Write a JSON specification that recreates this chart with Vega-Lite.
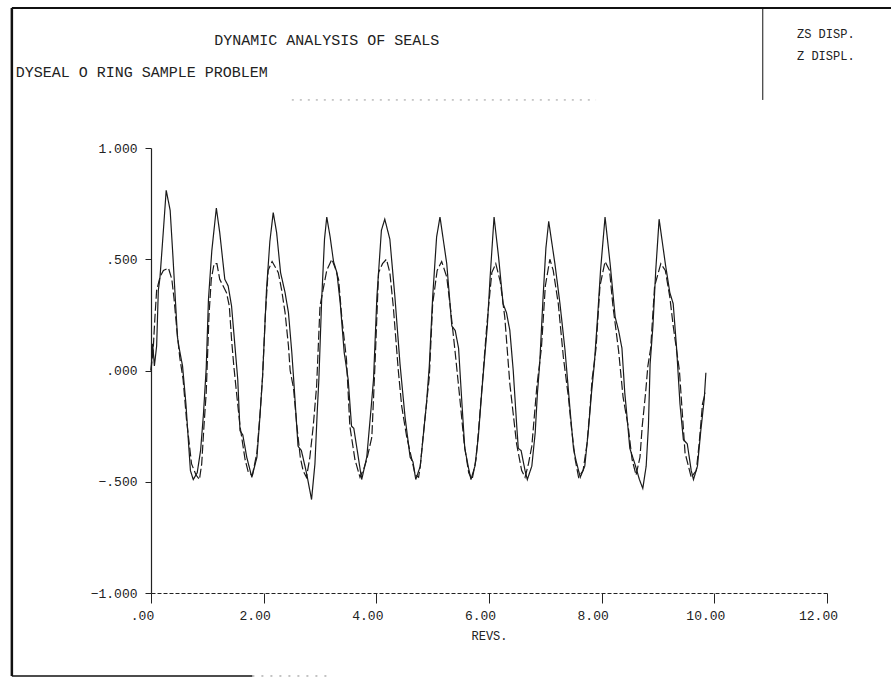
{
  "$schema": "https://vega.github.io/schema/vega-lite/v6.json",
  "width": 676,
  "height": 445,
  "autosize": {"type": "none"},
  "padding": {"left": 151, "top": 148, "right": 64, "bottom": 84},
  "background": "white",
  "config": {
    "view": {"stroke": null},
    "font": "Liberation Mono",
    "axis": {"grid": false, "labelFont": "Liberation Mono", "titleFont": "Liberation Mono", "labelColor": "#222", "titleColor": "#222", "domainColor": "#222", "tickColor": "#222"}
  },
  "datasets": {
    "curves": [
      {"rev": 0.00, "disp": 0.00, "series": "ZS DISP."},
      {"rev": 0.03, "disp": 0.12, "series": "ZS DISP."},
      {"rev": 0.06, "disp": 0.02, "series": "ZS DISP."},
      {"rev": 0.10, "disp": 0.11, "series": "ZS DISP."},
      {"rev": 0.13, "disp": 0.36, "series": "ZS DISP."},
      {"rev": 0.16, "disp": 0.42, "series": "ZS DISP."},
      {"rev": 0.22, "disp": 0.63, "series": "ZS DISP."},
      {"rev": 0.27, "disp": 0.81, "series": "ZS DISP."},
      {"rev": 0.34, "disp": 0.72, "series": "ZS DISP."},
      {"rev": 0.39, "disp": 0.51, "series": "ZS DISP."},
      {"rev": 0.43, "disp": 0.33, "series": "ZS DISP."},
      {"rev": 0.47, "disp": 0.15, "series": "ZS DISP."},
      {"rev": 0.50, "disp": 0.10, "series": "ZS DISP."},
      {"rev": 0.56, "disp": 0.02, "series": "ZS DISP."},
      {"rev": 0.62, "disp": -0.15, "series": "ZS DISP."},
      {"rev": 0.67, "disp": -0.34, "series": "ZS DISP."},
      {"rev": 0.70, "disp": -0.45, "series": "ZS DISP."},
      {"rev": 0.75, "disp": -0.49, "series": "ZS DISP."},
      {"rev": 0.82, "disp": -0.46, "series": "ZS DISP."},
      {"rev": 0.88, "disp": -0.36, "series": "ZS DISP."},
      {"rev": 0.93, "disp": -0.20, "series": "ZS DISP."},
      {"rev": 0.98, "disp": 0.01, "series": "ZS DISP."},
      {"rev": 1.02, "disp": 0.32, "series": "ZS DISP."},
      {"rev": 1.08, "disp": 0.54, "series": "ZS DISP."},
      {"rev": 1.16, "disp": 0.73, "series": "ZS DISP."},
      {"rev": 1.22, "disp": 0.62, "series": "ZS DISP."},
      {"rev": 1.31, "disp": 0.41, "series": "ZS DISP."},
      {"rev": 1.37, "disp": 0.38, "series": "ZS DISP."},
      {"rev": 1.43, "disp": 0.29, "series": "ZS DISP."},
      {"rev": 1.49, "disp": 0.11, "series": "ZS DISP."},
      {"rev": 1.54, "disp": -0.04, "series": "ZS DISP."},
      {"rev": 1.58, "disp": -0.27, "series": "ZS DISP."},
      {"rev": 1.63, "disp": -0.29, "series": "ZS DISP."},
      {"rev": 1.70, "disp": -0.39, "series": "ZS DISP."},
      {"rev": 1.79, "disp": -0.48, "series": "ZS DISP."},
      {"rev": 1.88, "disp": -0.39, "series": "ZS DISP."},
      {"rev": 1.93, "disp": -0.22, "series": "ZS DISP."},
      {"rev": 1.98, "disp": -0.03, "series": "ZS DISP."},
      {"rev": 2.05, "disp": 0.36, "series": "ZS DISP."},
      {"rev": 2.11, "disp": 0.58, "series": "ZS DISP."},
      {"rev": 2.17, "disp": 0.71, "series": "ZS DISP."},
      {"rev": 2.23, "disp": 0.62, "series": "ZS DISP."},
      {"rev": 2.30, "disp": 0.44, "series": "ZS DISP."},
      {"rev": 2.38, "disp": 0.35, "series": "ZS DISP."},
      {"rev": 2.44, "disp": 0.26, "series": "ZS DISP."},
      {"rev": 2.50, "disp": 0.08, "series": "ZS DISP."},
      {"rev": 2.53, "disp": -0.03, "series": "ZS DISP."},
      {"rev": 2.61, "disp": -0.34, "series": "ZS DISP."},
      {"rev": 2.67, "disp": -0.36, "series": "ZS DISP."},
      {"rev": 2.76, "disp": -0.46, "series": "ZS DISP."},
      {"rev": 2.85, "disp": -0.58, "series": "ZS DISP."},
      {"rev": 2.91, "disp": -0.42, "series": "ZS DISP."},
      {"rev": 2.95, "disp": -0.19, "series": "ZS DISP."},
      {"rev": 2.98, "disp": -0.04, "series": "ZS DISP."},
      {"rev": 3.03, "disp": 0.32, "series": "ZS DISP."},
      {"rev": 3.08, "disp": 0.59, "series": "ZS DISP."},
      {"rev": 3.12, "disp": 0.69, "series": "ZS DISP."},
      {"rev": 3.18, "disp": 0.60, "series": "ZS DISP."},
      {"rev": 3.24, "disp": 0.49, "series": "ZS DISP."},
      {"rev": 3.30, "disp": 0.44, "series": "ZS DISP."},
      {"rev": 3.36, "disp": 0.30, "series": "ZS DISP."},
      {"rev": 3.43, "disp": 0.08, "series": "ZS DISP."},
      {"rev": 3.50, "disp": -0.04, "series": "ZS DISP."},
      {"rev": 3.56, "disp": -0.25, "series": "ZS DISP."},
      {"rev": 3.60, "disp": -0.26, "series": "ZS DISP."},
      {"rev": 3.68, "disp": -0.39, "series": "ZS DISP."},
      {"rev": 3.74, "disp": -0.49, "series": "ZS DISP."},
      {"rev": 3.83, "disp": -0.39, "series": "ZS DISP."},
      {"rev": 3.90, "disp": -0.19, "series": "ZS DISP."},
      {"rev": 3.95, "disp": -0.04, "series": "ZS DISP."},
      {"rev": 4.01, "disp": 0.33, "series": "ZS DISP."},
      {"rev": 4.09, "disp": 0.63, "series": "ZS DISP."},
      {"rev": 4.15, "disp": 0.68, "series": "ZS DISP."},
      {"rev": 4.24, "disp": 0.59, "series": "ZS DISP."},
      {"rev": 4.33, "disp": 0.33, "series": "ZS DISP."},
      {"rev": 4.42, "disp": 0.03, "series": "ZS DISP."},
      {"rev": 4.51, "disp": -0.21, "series": "ZS DISP."},
      {"rev": 4.60, "disp": -0.39, "series": "ZS DISP."},
      {"rev": 4.65, "disp": -0.41, "series": "ZS DISP."},
      {"rev": 4.70, "disp": -0.49, "series": "ZS DISP."},
      {"rev": 4.78, "disp": -0.43, "series": "ZS DISP."},
      {"rev": 4.83, "disp": -0.30, "series": "ZS DISP."},
      {"rev": 4.89, "disp": -0.15, "series": "ZS DISP."},
      {"rev": 4.94, "disp": 0.02, "series": "ZS DISP."},
      {"rev": 5.00, "disp": 0.33, "series": "ZS DISP."},
      {"rev": 5.07, "disp": 0.60, "series": "ZS DISP."},
      {"rev": 5.13, "disp": 0.69, "series": "ZS DISP."},
      {"rev": 5.25, "disp": 0.48, "series": "ZS DISP."},
      {"rev": 5.34, "disp": 0.20, "series": "ZS DISP."},
      {"rev": 5.40, "disp": 0.18, "series": "ZS DISP."},
      {"rev": 5.46, "disp": 0.10, "series": "ZS DISP."},
      {"rev": 5.52, "disp": -0.15, "series": "ZS DISP."},
      {"rev": 5.57, "disp": -0.35, "series": "ZS DISP."},
      {"rev": 5.63, "disp": -0.43, "series": "ZS DISP."},
      {"rev": 5.68, "disp": -0.49, "series": "ZS DISP."},
      {"rev": 5.75, "disp": -0.43, "series": "ZS DISP."},
      {"rev": 5.81, "disp": -0.30, "series": "ZS DISP."},
      {"rev": 5.87, "disp": -0.10, "series": "ZS DISP."},
      {"rev": 5.91, "disp": 0.02, "series": "ZS DISP."},
      {"rev": 5.97, "disp": 0.20, "series": "ZS DISP."},
      {"rev": 6.02, "disp": 0.42, "series": "ZS DISP."},
      {"rev": 6.09, "disp": 0.69, "series": "ZS DISP."},
      {"rev": 6.17, "disp": 0.51, "series": "ZS DISP."},
      {"rev": 6.25, "disp": 0.30, "series": "ZS DISP."},
      {"rev": 6.31, "disp": 0.26, "series": "ZS DISP."},
      {"rev": 6.37, "disp": 0.18, "series": "ZS DISP."},
      {"rev": 6.43, "disp": 0.00, "series": "ZS DISP."},
      {"rev": 6.49, "disp": -0.24, "series": "ZS DISP."},
      {"rev": 6.52, "disp": -0.35, "series": "ZS DISP."},
      {"rev": 6.57, "disp": -0.36, "series": "ZS DISP."},
      {"rev": 6.64, "disp": -0.45, "series": "ZS DISP."},
      {"rev": 6.68, "disp": -0.49, "series": "ZS DISP."},
      {"rev": 6.76, "disp": -0.43, "series": "ZS DISP."},
      {"rev": 6.82, "disp": -0.28, "series": "ZS DISP."},
      {"rev": 6.86, "disp": -0.10, "series": "ZS DISP."},
      {"rev": 6.90, "disp": 0.03, "series": "ZS DISP."},
      {"rev": 6.96, "disp": 0.33, "series": "ZS DISP."},
      {"rev": 7.01, "disp": 0.55, "series": "ZS DISP."},
      {"rev": 7.06, "disp": 0.67, "series": "ZS DISP."},
      {"rev": 7.17, "disp": 0.48, "series": "ZS DISP."},
      {"rev": 7.26, "disp": 0.30, "series": "ZS DISP."},
      {"rev": 7.35, "disp": 0.09, "series": "ZS DISP."},
      {"rev": 7.44, "disp": -0.18, "series": "ZS DISP."},
      {"rev": 7.50, "disp": -0.35, "series": "ZS DISP."},
      {"rev": 7.54, "disp": -0.40, "series": "ZS DISP."},
      {"rev": 7.62, "disp": -0.48, "series": "ZS DISP."},
      {"rev": 7.70, "disp": -0.43, "series": "ZS DISP."},
      {"rev": 7.76, "disp": -0.28, "series": "ZS DISP."},
      {"rev": 7.82, "disp": -0.10, "series": "ZS DISP."},
      {"rev": 7.87, "disp": 0.03, "series": "ZS DISP."},
      {"rev": 7.93, "disp": 0.25, "series": "ZS DISP."},
      {"rev": 7.98, "disp": 0.45, "series": "ZS DISP."},
      {"rev": 8.06, "disp": 0.69, "series": "ZS DISP."},
      {"rev": 8.15, "disp": 0.48, "series": "ZS DISP."},
      {"rev": 8.24, "disp": 0.24, "series": "ZS DISP."},
      {"rev": 8.30, "disp": 0.18, "series": "ZS DISP."},
      {"rev": 8.36, "disp": 0.10, "series": "ZS DISP."},
      {"rev": 8.41, "disp": -0.10, "series": "ZS DISP."},
      {"rev": 8.44, "disp": -0.18, "series": "ZS DISP."},
      {"rev": 8.50, "disp": -0.35, "series": "ZS DISP."},
      {"rev": 8.59, "disp": -0.42, "series": "ZS DISP."},
      {"rev": 8.67, "disp": -0.49, "series": "ZS DISP."},
      {"rev": 8.73, "disp": -0.53, "series": "ZS DISP."},
      {"rev": 8.79, "disp": -0.43, "series": "ZS DISP."},
      {"rev": 8.83, "disp": -0.25, "series": "ZS DISP."},
      {"rev": 8.86, "disp": 0.03, "series": "ZS DISP."},
      {"rev": 8.91, "disp": 0.20, "series": "ZS DISP."},
      {"rev": 8.96, "disp": 0.45, "series": "ZS DISP."},
      {"rev": 9.02, "disp": 0.68, "series": "ZS DISP."},
      {"rev": 9.13, "disp": 0.48, "series": "ZS DISP."},
      {"rev": 9.21, "disp": 0.35, "series": "ZS DISP."},
      {"rev": 9.27, "disp": 0.30, "series": "ZS DISP."},
      {"rev": 9.33, "disp": 0.10, "series": "ZS DISP."},
      {"rev": 9.39, "disp": -0.15, "series": "ZS DISP."},
      {"rev": 9.45, "disp": -0.31, "series": "ZS DISP."},
      {"rev": 9.52, "disp": -0.33, "series": "ZS DISP."},
      {"rev": 9.59, "disp": -0.45, "series": "ZS DISP."},
      {"rev": 9.63, "disp": -0.49, "series": "ZS DISP."},
      {"rev": 9.70, "disp": -0.43, "series": "ZS DISP."},
      {"rev": 9.76, "disp": -0.27, "series": "ZS DISP."},
      {"rev": 9.82, "disp": -0.13, "series": "ZS DISP."},
      {"rev": 9.85, "disp": -0.01, "series": "ZS DISP."},
      {"rev": 0.00, "disp": 0.00, "series": "Z DISPL."},
      {"rev": 0.04, "disp": 0.10, "series": "Z DISPL."},
      {"rev": 0.07, "disp": 0.24, "series": "Z DISPL."},
      {"rev": 0.10, "disp": 0.36, "series": "Z DISPL."},
      {"rev": 0.16, "disp": 0.42, "series": "Z DISPL."},
      {"rev": 0.22, "disp": 0.45, "series": "Z DISPL."},
      {"rev": 0.31, "disp": 0.46, "series": "Z DISPL."},
      {"rev": 0.37, "disp": 0.41, "series": "Z DISPL."},
      {"rev": 0.41, "disp": 0.32, "series": "Z DISPL."},
      {"rev": 0.46, "disp": 0.18, "series": "Z DISPL."},
      {"rev": 0.51, "disp": 0.06, "series": "Z DISPL."},
      {"rev": 0.57, "disp": -0.04, "series": "Z DISPL."},
      {"rev": 0.63, "disp": -0.22, "series": "Z DISPL."},
      {"rev": 0.72, "disp": -0.42, "series": "Z DISPL."},
      {"rev": 0.80, "disp": -0.47, "series": "Z DISPL."},
      {"rev": 0.86, "disp": -0.49, "series": "Z DISPL."},
      {"rev": 0.90, "disp": -0.42, "series": "Z DISPL."},
      {"rev": 0.94, "disp": -0.25, "series": "Z DISPL."},
      {"rev": 0.98, "disp": -0.10, "series": "Z DISPL."},
      {"rev": 1.03, "disp": 0.25, "series": "Z DISPL."},
      {"rev": 1.07, "disp": 0.41, "series": "Z DISPL."},
      {"rev": 1.12, "disp": 0.48, "series": "Z DISPL."},
      {"rev": 1.17, "disp": 0.48, "series": "Z DISPL."},
      {"rev": 1.22, "disp": 0.41, "series": "Z DISPL."},
      {"rev": 1.34, "disp": 0.35, "series": "Z DISPL."},
      {"rev": 1.39, "disp": 0.29, "series": "Z DISPL."},
      {"rev": 1.43, "disp": 0.14, "series": "Z DISPL."},
      {"rev": 1.47, "disp": 0.02, "series": "Z DISPL."},
      {"rev": 1.51, "disp": -0.08, "series": "Z DISPL."},
      {"rev": 1.58, "disp": -0.25, "series": "Z DISPL."},
      {"rev": 1.67, "disp": -0.40, "series": "Z DISPL."},
      {"rev": 1.73, "disp": -0.46, "series": "Z DISPL."},
      {"rev": 1.80, "disp": -0.47, "series": "Z DISPL."},
      {"rev": 1.88, "disp": -0.37, "series": "Z DISPL."},
      {"rev": 1.94, "disp": -0.18, "series": "Z DISPL."},
      {"rev": 1.98, "disp": -0.03, "series": "Z DISPL."},
      {"rev": 2.03, "disp": 0.25, "series": "Z DISPL."},
      {"rev": 2.08, "disp": 0.45, "series": "Z DISPL."},
      {"rev": 2.15, "disp": 0.49, "series": "Z DISPL."},
      {"rev": 2.26, "disp": 0.44, "series": "Z DISPL."},
      {"rev": 2.32, "disp": 0.36, "series": "Z DISPL."},
      {"rev": 2.38, "disp": 0.26, "series": "Z DISPL."},
      {"rev": 2.44, "disp": 0.11, "series": "Z DISPL."},
      {"rev": 2.47, "disp": 0.00, "series": "Z DISPL."},
      {"rev": 2.53, "disp": -0.08, "series": "Z DISPL."},
      {"rev": 2.59, "disp": -0.25, "series": "Z DISPL."},
      {"rev": 2.65, "disp": -0.39, "series": "Z DISPL."},
      {"rev": 2.70, "disp": -0.45, "series": "Z DISPL."},
      {"rev": 2.76, "disp": -0.48, "series": "Z DISPL."},
      {"rev": 2.82, "disp": -0.39, "series": "Z DISPL."},
      {"rev": 2.88, "disp": -0.25, "series": "Z DISPL."},
      {"rev": 2.94, "disp": -0.07, "series": "Z DISPL."},
      {"rev": 3.00, "disp": 0.29, "series": "Z DISPL."},
      {"rev": 3.12, "disp": 0.45, "series": "Z DISPL."},
      {"rev": 3.21, "disp": 0.50, "series": "Z DISPL."},
      {"rev": 3.27, "disp": 0.46, "series": "Z DISPL."},
      {"rev": 3.33, "disp": 0.41, "series": "Z DISPL."},
      {"rev": 3.39, "disp": 0.23, "series": "Z DISPL."},
      {"rev": 3.47, "disp": 0.05, "series": "Z DISPL."},
      {"rev": 3.53, "disp": -0.25, "series": "Z DISPL."},
      {"rev": 3.62, "disp": -0.40, "series": "Z DISPL."},
      {"rev": 3.71, "disp": -0.48, "series": "Z DISPL."},
      {"rev": 3.78, "disp": -0.44, "series": "Z DISPL."},
      {"rev": 3.83, "disp": -0.40, "series": "Z DISPL."},
      {"rev": 3.92, "disp": -0.30, "series": "Z DISPL."},
      {"rev": 3.98, "disp": 0.05, "series": "Z DISPL."},
      {"rev": 4.04, "disp": 0.44, "series": "Z DISPL."},
      {"rev": 4.11, "disp": 0.48, "series": "Z DISPL."},
      {"rev": 4.18, "disp": 0.50, "series": "Z DISPL."},
      {"rev": 4.24, "disp": 0.44, "series": "Z DISPL."},
      {"rev": 4.30, "disp": 0.29, "series": "Z DISPL."},
      {"rev": 4.39, "disp": 0.00, "series": "Z DISPL."},
      {"rev": 4.45, "disp": -0.16, "series": "Z DISPL."},
      {"rev": 4.54, "disp": -0.30, "series": "Z DISPL."},
      {"rev": 4.63, "disp": -0.40, "series": "Z DISPL."},
      {"rev": 4.69, "disp": -0.47, "series": "Z DISPL."},
      {"rev": 4.75, "disp": -0.48, "series": "Z DISPL."},
      {"rev": 4.78, "disp": -0.43, "series": "Z DISPL."},
      {"rev": 4.83, "disp": -0.30, "series": "Z DISPL."},
      {"rev": 4.89, "disp": -0.15, "series": "Z DISPL."},
      {"rev": 4.94, "disp": -0.03, "series": "Z DISPL."},
      {"rev": 5.00, "disp": 0.30, "series": "Z DISPL."},
      {"rev": 5.08, "disp": 0.45, "series": "Z DISPL."},
      {"rev": 5.16, "disp": 0.49, "series": "Z DISPL."},
      {"rev": 5.25, "disp": 0.42, "series": "Z DISPL."},
      {"rev": 5.32, "disp": 0.27, "series": "Z DISPL."},
      {"rev": 5.40, "disp": 0.08, "series": "Z DISPL."},
      {"rev": 5.48, "disp": -0.12, "series": "Z DISPL."},
      {"rev": 5.56, "disp": -0.33, "series": "Z DISPL."},
      {"rev": 5.64, "disp": -0.46, "series": "Z DISPL."},
      {"rev": 5.70, "disp": -0.49, "series": "Z DISPL."},
      {"rev": 5.77, "disp": -0.40, "series": "Z DISPL."},
      {"rev": 5.83, "disp": -0.22, "series": "Z DISPL."},
      {"rev": 5.89, "disp": -0.03, "series": "Z DISPL."},
      {"rev": 5.96, "disp": 0.20, "series": "Z DISPL."},
      {"rev": 6.05, "disp": 0.44, "series": "Z DISPL."},
      {"rev": 6.12, "disp": 0.48, "series": "Z DISPL."},
      {"rev": 6.20, "disp": 0.40, "series": "Z DISPL."},
      {"rev": 6.28, "disp": 0.24, "series": "Z DISPL."},
      {"rev": 6.37, "disp": -0.06, "series": "Z DISPL."},
      {"rev": 6.49, "disp": -0.33, "series": "Z DISPL."},
      {"rev": 6.58, "disp": -0.45, "series": "Z DISPL."},
      {"rev": 6.64, "disp": -0.48, "series": "Z DISPL."},
      {"rev": 6.70, "disp": -0.42, "series": "Z DISPL."},
      {"rev": 6.76, "disp": -0.34, "series": "Z DISPL."},
      {"rev": 6.80, "disp": -0.22, "series": "Z DISPL."},
      {"rev": 6.85, "disp": -0.07, "series": "Z DISPL."},
      {"rev": 6.93, "disp": 0.10, "series": "Z DISPL."},
      {"rev": 7.00, "disp": 0.38, "series": "Z DISPL."},
      {"rev": 7.08, "disp": 0.50, "series": "Z DISPL."},
      {"rev": 7.14, "disp": 0.45, "series": "Z DISPL."},
      {"rev": 7.23, "disp": 0.30, "series": "Z DISPL."},
      {"rev": 7.32, "disp": 0.06, "series": "Z DISPL."},
      {"rev": 7.41, "disp": -0.12, "series": "Z DISPL."},
      {"rev": 7.46, "disp": -0.25, "series": "Z DISPL."},
      {"rev": 7.53, "disp": -0.40, "series": "Z DISPL."},
      {"rev": 7.59, "disp": -0.48, "series": "Z DISPL."},
      {"rev": 7.67, "disp": -0.45, "series": "Z DISPL."},
      {"rev": 7.74, "disp": -0.33, "series": "Z DISPL."},
      {"rev": 7.79, "disp": -0.18, "series": "Z DISPL."},
      {"rev": 7.83, "disp": -0.04, "series": "Z DISPL."},
      {"rev": 7.90, "disp": 0.10, "series": "Z DISPL."},
      {"rev": 7.97, "disp": 0.38, "series": "Z DISPL."},
      {"rev": 8.06, "disp": 0.49, "series": "Z DISPL."},
      {"rev": 8.14, "disp": 0.45, "series": "Z DISPL."},
      {"rev": 8.20, "disp": 0.29, "series": "Z DISPL."},
      {"rev": 8.30, "disp": 0.09, "series": "Z DISPL."},
      {"rev": 8.38, "disp": -0.12, "series": "Z DISPL."},
      {"rev": 8.47, "disp": -0.25, "series": "Z DISPL."},
      {"rev": 8.54, "disp": -0.40, "series": "Z DISPL."},
      {"rev": 8.61, "disp": -0.47, "series": "Z DISPL."},
      {"rev": 8.68, "disp": -0.39, "series": "Z DISPL."},
      {"rev": 8.72, "disp": -0.25, "series": "Z DISPL."},
      {"rev": 8.78, "disp": -0.10, "series": "Z DISPL."},
      {"rev": 8.82, "disp": 0.02, "series": "Z DISPL."},
      {"rev": 8.87, "disp": 0.10, "series": "Z DISPL."},
      {"rev": 8.94, "disp": 0.38, "series": "Z DISPL."},
      {"rev": 9.05, "disp": 0.48, "series": "Z DISPL."},
      {"rev": 9.13, "disp": 0.45, "series": "Z DISPL."},
      {"rev": 9.21, "disp": 0.33, "series": "Z DISPL."},
      {"rev": 9.27, "disp": 0.20, "series": "Z DISPL."},
      {"rev": 9.38, "disp": 0.00, "series": "Z DISPL."},
      {"rev": 9.48, "disp": -0.37, "series": "Z DISPL."},
      {"rev": 9.54, "disp": -0.43, "series": "Z DISPL."},
      {"rev": 9.59, "disp": -0.48, "series": "Z DISPL."},
      {"rev": 9.68, "disp": -0.45, "series": "Z DISPL."},
      {"rev": 9.73, "disp": -0.33, "series": "Z DISPL."},
      {"rev": 9.79, "disp": -0.15, "series": "Z DISPL."},
      {"rev": 9.84, "disp": -0.10, "series": "Z DISPL."}
    ]
  },
  "layer": [
    {
      "data": {"name": "curves"},
      "mark": {"type": "line", "color": "#1a1a1a", "strokeWidth": 1.2, "clip": false},
      "encoding": {
        "x": {
          "field": "rev", "type": "quantitative",
          "scale": {"domain": [0, 12], "nice": false, "zero": false},
          "axis": {
            "title": "REVS.", "titleFontSize": 12, "titleFontWeight": "normal", "titlePadding": 8,
            "values": [0, 2, 4, 6, 8, 10, 12],
            "labelExpr": "datum.value == 0 ? '.00' : format(datum.value, '.2f')",
            "labelFontSize": 13, "labelFlush": false, "labelOffset": -9, "labelPadding": 6,
            "tickSize": 10, "domainDash": [4, 2], "domainWidth": 1, "tickWidth": 1
          }
        },
        "y": {
          "field": "disp", "type": "quantitative",
          "scale": {"domain": [-1, 1], "nice": false, "zero": false},
          "axis": {
            "title": null,
            "values": [-1, -0.5, 0, 0.5, 1],
            "labelExpr": "replace(format(datum.value, '.3f'), '0.', '.')",
            "labelFontSize": 13, "labelPadding": 8, "tickSize": 6, "domainWidth": 1.2
          }
        },
        "strokeDash": {
          "field": "series", "type": "nominal",
          "scale": {"domain": ["ZS DISP.", "Z DISPL."], "range": [[1, 0], [9, 3]]},
          "legend": {
            "orient": "none", "legendX": 634, "legendY": -120, "title": null,
            "labelFont": "Liberation Mono", "labelFontSize": 12, "labelColor": "#222",
            "symbolOpacity": 0, "symbolSize": 0, "labelOffset": 0, "rowPadding": 10
          }
        }
      }
    },
    {
      "data": {"values": [{}]},
      "mark": {"type": "rule", "color": "#111", "strokeWidth": 2.5, "clip": false},
      "encoding": {"x": {"datum": -2.47}, "y": {"datum": 1.629}, "y2": {"datum": -1.373}}
    },
    {
      "data": {"values": [{}]},
      "mark": {"type": "rule", "color": "#111", "strokeWidth": 2, "clip": false},
      "encoding": {"x": {"datum": -2.47}, "x2": {"datum": 13.2}, "y": {"datum": 1.629}}
    },
    {
      "data": {"values": [{}]},
      "mark": {"type": "rule", "color": "#111", "strokeWidth": 1.5, "clip": false},
      "encoding": {"x": {"datum": -2.47}, "x2": {"datum": 1.8}, "y": {"datum": -1.373}}
    },
    {
      "data": {"values": [{}]},
      "mark": {"type": "rule", "color": "#888", "strokeWidth": 1, "strokeDash": [2, 7], "clip": false},
      "encoding": {"x": {"datum": 1.8}, "x2": {"datum": 3.2}, "y": {"datum": -1.373}}
    },
    {
      "data": {"values": [{}]},
      "mark": {"type": "rule", "color": "#111", "strokeWidth": 1, "clip": false},
      "encoding": {"x": {"datum": 10.86}, "y": {"datum": 1.629}, "y2": {"datum": 1.216}}
    },
    {
      "data": {"values": [{}]},
      "mark": {"type": "rule", "color": "#999", "strokeWidth": 1, "strokeDash": [2, 6], "clip": false},
      "encoding": {"x": {"datum": 2.5}, "x2": {"datum": 7.9}, "y": {"datum": 1.216}}
    },
    {
      "data": {"values": [{}]},
      "mark": {"type": "text", "align": "center", "baseline": "middle", "fontSize": 15, "font": "Liberation Mono", "color": "#222"},
      "encoding": {"x": {"datum": 3.12}, "y": {"datum": 1.485}, "text": {"value": "DYNAMIC ANALYSIS OF SEALS"}}
    },
    {
      "data": {"values": [{}]},
      "mark": {"type": "text", "align": "left", "baseline": "middle", "fontSize": 15, "font": "Liberation Mono", "color": "#222"},
      "encoding": {"x": {"datum": -2.40}, "y": {"datum": 1.342}, "text": {"value": "DYSEAL O RING SAMPLE PROBLEM"}}
    }
  ]
}
